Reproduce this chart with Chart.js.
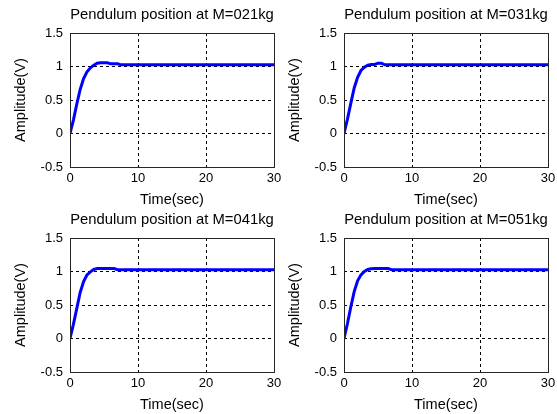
<!DOCTYPE html>
<html lang="en">
<head>
<meta charset="UTF-8">
<title>Pendulum position</title>
<script src="https://cdn.jsdelivr.net/npm/chart.js"></script>
<style>
    body { margin: 0; background: #fff; }
    #wrap { position: relative; width: 557px; height: 414px; overflow: hidden; }
    #wrap canvas { position: absolute; }
</style>
</head>
<body>
<div id="wrap">
    <canvas id="m021" width="290" height="207" style="left:0px;top:0px"></canvas>
    <canvas id="m031" width="290" height="207" style="left:274px;top:0px"></canvas>
    <canvas id="m041" width="290" height="207" style="left:0px;top:205px"></canvas>
    <canvas id="m051" width="290" height="207" style="left:274px;top:205px"></canvas>
</div>
<script>
    // step response samples, time in seconds
    const time = [0, 0.5, 1, 1.5, 2, 2.5, 3, 3.5, 4, 4.5, 5, 5.5, 6, 6.5, 7, 7.5, 8, 30];

    const posM021 = [0, 0.2, 0.44, 0.66, 0.82, 0.92, 0.98, 1.02, 1.05, 1.055, 1.055, 1.055, 1.04, 1.04, 1.04, 1.025, 1.025, 1.025];
    const posM031 = [0, 0.21, 0.45, 0.68, 0.84, 0.94, 0.99, 1.02, 1.03, 1.03, 1.05, 1.05, 1.025, 1.025, 1.025, 1.025, 1.025, 1.025];
    const posM041 = [0, 0.21, 0.45, 0.69, 0.85, 0.95, 0.995, 1.03, 1.045, 1.045, 1.045, 1.045, 1.045, 1.045, 1.025, 1.025, 1.025, 1.025];
    const posM051 = [0, 0.22, 0.47, 0.7, 0.86, 0.95, 1.0, 1.03, 1.04, 1.045, 1.045, 1.045, 1.045, 1.045, 1.025, 1.025, 1.025, 1.025];

    const xTicks = [0, 10, 20, 30];
    const yTicks = [-0.5, 0, 0.5, 1, 1.5];

    const plots = [
        { id: 'm021', title: 'Pendulum position at M=021kg', values: posM021 },
        { id: 'm031', title: 'Pendulum position at M=031kg', values: posM031 },
        { id: 'm041', title: 'Pendulum position at M=041kg', values: posM041 },
        { id: 'm051', title: 'Pendulum position at M=051kg', values: posM051 }
    ];

    const FONT = 'Liberation Sans, Arial, sans-serif';

    // axes box around the plot area, title centred over it
    const boxPlugin = {
        id: 'box',
        afterDraw(chart, args, opts) {
            const a = chart.chartArea;
            const ctx = chart.ctx;
            ctx.save();
            ctx.strokeStyle = '#262626';
            ctx.lineWidth = 1;
            ctx.strokeRect(Math.round(a.left) + 0.5, Math.round(a.top) + 0.5,
                Math.round(a.right - a.left), Math.round(a.bottom - a.top));
            ctx.fillStyle = '#000';
            ctx.font = '14.8px ' + FONT;
            ctx.textAlign = 'center';
            ctx.textBaseline = 'middle';
            ctx.fillText(opts.text, (a.left + a.right) / 2, 15);
            ctx.restore();
        }
    };

    // only the inner ticks get a dashed grid line
    const innerGrid = (ticks) => (c) => {
        const v = c.tick ? c.tick.value : null;
        return (v === ticks[0] || v === ticks[ticks.length - 1]) ? 'rgba(0,0,0,0)' : '#000';
    };

    plots.forEach(p => {
        new Chart(document.getElementById(p.id), {
            type: 'line',
            data: {
                datasets: [{
                    data: time.map((t, i) => ({ x: t, y: p.values[i] })),
                    borderColor: '#0000ff',
                    borderWidth: 3,
                    pointRadius: 0,
                    tension: 0,
                    fill: false
                }]
            },
            plugins: [boxPlugin],
            options: {
                responsive: false,
                animation: false,
                layout: { padding: { left: 0, right: 16, top: 33, bottom: 0 } },
                plugins: {
                    legend: { display: false },
                    tooltip: { enabled: false },
                    title: { display: false },
                    box: { text: p.title }
                },
                scales: {
                    x: {
                        type: 'linear',
                        min: xTicks[0],
                        max: xTicks[xTicks.length - 1],
                        afterBuildTicks: s => { s.ticks = xTicks.map(v => ({ value: v })); },
                        afterFit: s => { s.height = 40; },
                        ticks: {
                            color: '#000',
                            padding: 4,
                            maxRotation: 0,
                            font: { family: FONT, size: 13 },
                            callback: v => String(v)
                        },
                        grid: { color: innerGrid(xTicks), lineWidth: 1, drawTicks: false },
                        border: { display: false, dash: [3, 3] },
                        title: {
                            display: true,
                            text: 'Time(sec)',
                            color: '#000',
                            font: { family: FONT, size: 14.5, lineHeight: 1 },
                            padding: { top: 0, bottom: 0 }
                        }
                    },
                    y: {
                        min: yTicks[0],
                        max: yTicks[yTicks.length - 1],
                        afterBuildTicks: s => { s.ticks = yTicks.map(v => ({ value: v })); },
                        afterFit: s => { s.width = 70; },
                        ticks: {
                            color: '#000',
                            padding: 7,
                            font: { family: FONT, size: 13 },
                            callback: v => String(v)
                        },
                        grid: { color: innerGrid(yTicks), lineWidth: 1, drawTicks: false },
                        border: { display: false, dash: [3, 3] },
                        title: {
                            display: true,
                            text: 'Amplitude(V)',
                            color: '#000',
                            font: { family: FONT, size: 14.5, lineHeight: 1 },
                            padding: { top: 14, bottom: 0 }
                        }
                    }
                }
            }
        });
    });
</script>
</body>
</html>
